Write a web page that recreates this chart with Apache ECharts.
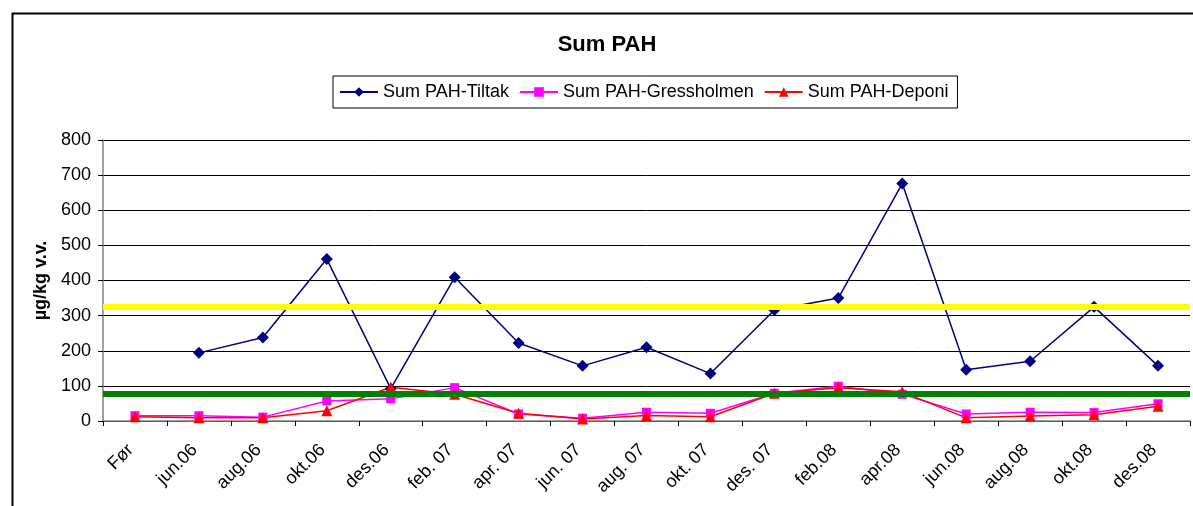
<!DOCTYPE html>
<html>
<head>
<meta charset="utf-8">
<script src="https://cdn.jsdelivr.net/npm/echarts@6/dist/echarts.min.js"></script>
<style>
html,body{margin:0;padding:0;background:#fff;}
#chart{width:1193px;height:506px;}
</style>
</head>
<body>
<div id="chart"></div>
<script>
const categories = ['Før','jun.06','aug.06','okt.06','des.06','feb. 07','apr. 07','jun. 07','aug. 07','okt. 07','des. 07','feb.08','apr.08','jun.08','aug.08','okt.08','des.08'];
const tiltak = [null,194,238,461,92,409,222,157,210,135,316,350,676,146,170,325,157];
const gressholmen = [15,15,11,57,63,95,20,8,25,22,79,99,76,20,25,24,49];
const deponi = [12,9,9,29,96,76,22,6,16,12,79,95,83,9,14,18,42];
const yellowLimit = 324;
const greenLimit = 78;
const yTicks = {min:0, max:800, interval:100};

const FONT = "'Liberation Sans', Arial, sans-serif";
const chart = echarts.init(document.getElementById('chart'), null, {renderer:'canvas'});
chart.setOption({
  backgroundColor:'#fff',
  animation:false,
  graphic:[{
    type:'rect', left:10, top:11, shape:{x:0,y:0,width:1200,height:500},
    style:{fill:'none', stroke:'#000', lineWidth:2}, silent:true, z:-1
  }],
  title:{
    text:'Sum PAH', left:602, top:29, textAlign:'center',
    textStyle:{fontFamily:FONT, fontSize:22, fontWeight:'bold', color:'#000'}
  },
  legend:{
    left:333, top:76, orient:'horizontal',
    padding:[7,9,7,6],
    borderColor:'#000', borderWidth:1,
    itemWidth:38, itemHeight:12, itemGap:10,
    textStyle:{fontFamily:FONT, fontSize:18, color:'#000', padding:[0,0,0,0]},
    data:['Sum PAH-Tiltak','Sum PAH-Gressholmen','Sum PAH-Deponi']
  },
  grid:{left:103, top:140, right:3, bottom:85, containLabel:false},
  xAxis:{
    type:'category', data:categories, boundaryGap:true,
    axisLine:{lineStyle:{color:'#808080', width:1.5}},
    axisTick:{show:true, interval:0, length:5, lineStyle:{color:'#000'}},
    axisLabel:{interval:0, rotate:45, margin:22, fontFamily:FONT, fontSize:18, color:'#000', padding:[0,6,0,0]},
    splitLine:{show:false}
  },
  yAxis:{
    type:'value', min:yTicks.min, max:yTicks.max, interval:yTicks.interval,
    name:'µg/kg v.v.', nameLocation:'middle', nameGap:52, nameRotate:90,
    nameTextStyle:{fontFamily:FONT, fontSize:18, fontWeight:'bold', color:'#000'},
    axisLine:{show:true, lineStyle:{color:'#808080', width:1.5}},
    axisTick:{show:true, length:5, lineStyle:{color:'#000'}},
    axisLabel:{margin:12, fontFamily:FONT, fontSize:18, color:'#000'},
    splitLine:{show:true, lineStyle:{color:'#000', width:1}}
  },
  series:[
    {
      name:'Sum PAH-Tiltak', type:'line', data:tiltak,
      symbol:'diamond', symbolSize:12, showAllSymbol:true,
      itemStyle:{color:'#000080'}, lineStyle:{color:'#000080', width:1.5}
    },
    {
      name:'Sum PAH-Gressholmen', type:'line', data:gressholmen,
      symbol:'rect', symbolSize:9, showAllSymbol:true,
      itemStyle:{color:'#FF00FF'}, lineStyle:{color:'#FF00FF', width:1.5}
    },
    {
      name:'Sum PAH-Deponi', type:'line', data:deponi,
      symbol:'triangle', symbolSize:11, showAllSymbol:true,
      itemStyle:{color:'#FF0000'}, lineStyle:{color:'#FF0000', width:1.5},
      markLine:{
        silent:true, symbol:['none','none'], label:{show:false}, animation:false,
        data:[
          {yAxis:yellowLimit, lineStyle:{color:'#FFFF00', width:6, type:'solid'}},
          {yAxis:greenLimit, lineStyle:{color:'#008000', width:6, type:'solid'}}
        ]
      }
    }
  ]
});
</script>
</body>
</html>
